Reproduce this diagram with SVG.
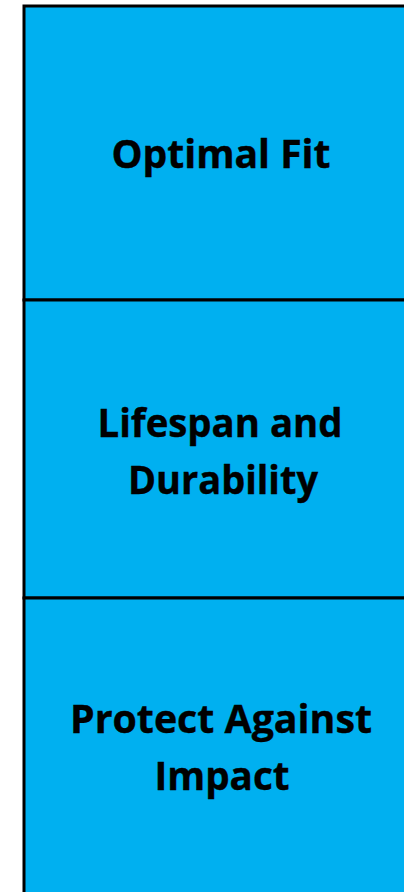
<svg xmlns="http://www.w3.org/2000/svg" width="404" height="892" viewBox="0 0 404 892">
<style>
.box{fill:#00B0F0;stroke:#000;stroke-width:3}
.lbl{font-family:"Open Sans","Liberation Sans",sans-serif;font-weight:bold;font-size:40px;fill:#000;text-anchor:middle;stroke:#000;stroke-width:0.4}
</style>
<rect width="404" height="892" fill="#fff"/>
<g id="node-optimal-fit">
<rect class="box" x="24" y="6" width="396" height="294"/>
<text class="lbl" x="221" y="168" textLength="219" lengthAdjust="spacingAndGlyphs">Optimal Fit</text>
</g>
<g id="node-lifespan">
<rect class="box" x="24" y="300" width="396" height="298"/>
<text class="lbl" x="220" y="437" textLength="245" lengthAdjust="spacingAndGlyphs">Lifespan and</text>
<text class="lbl" x="223" y="494" textLength="190" lengthAdjust="spacingAndGlyphs">Durability</text>
</g>
<g id="node-protect">
<rect class="box" x="24" y="598" width="396" height="300"/>
<text class="lbl" x="221" y="733" textLength="302" lengthAdjust="spacingAndGlyphs">Protect Against</text>
<text class="lbl" x="222" y="790" textLength="135" lengthAdjust="spacingAndGlyphs">Impact</text>
</g>
<g id="connectors"></g>
</svg>
